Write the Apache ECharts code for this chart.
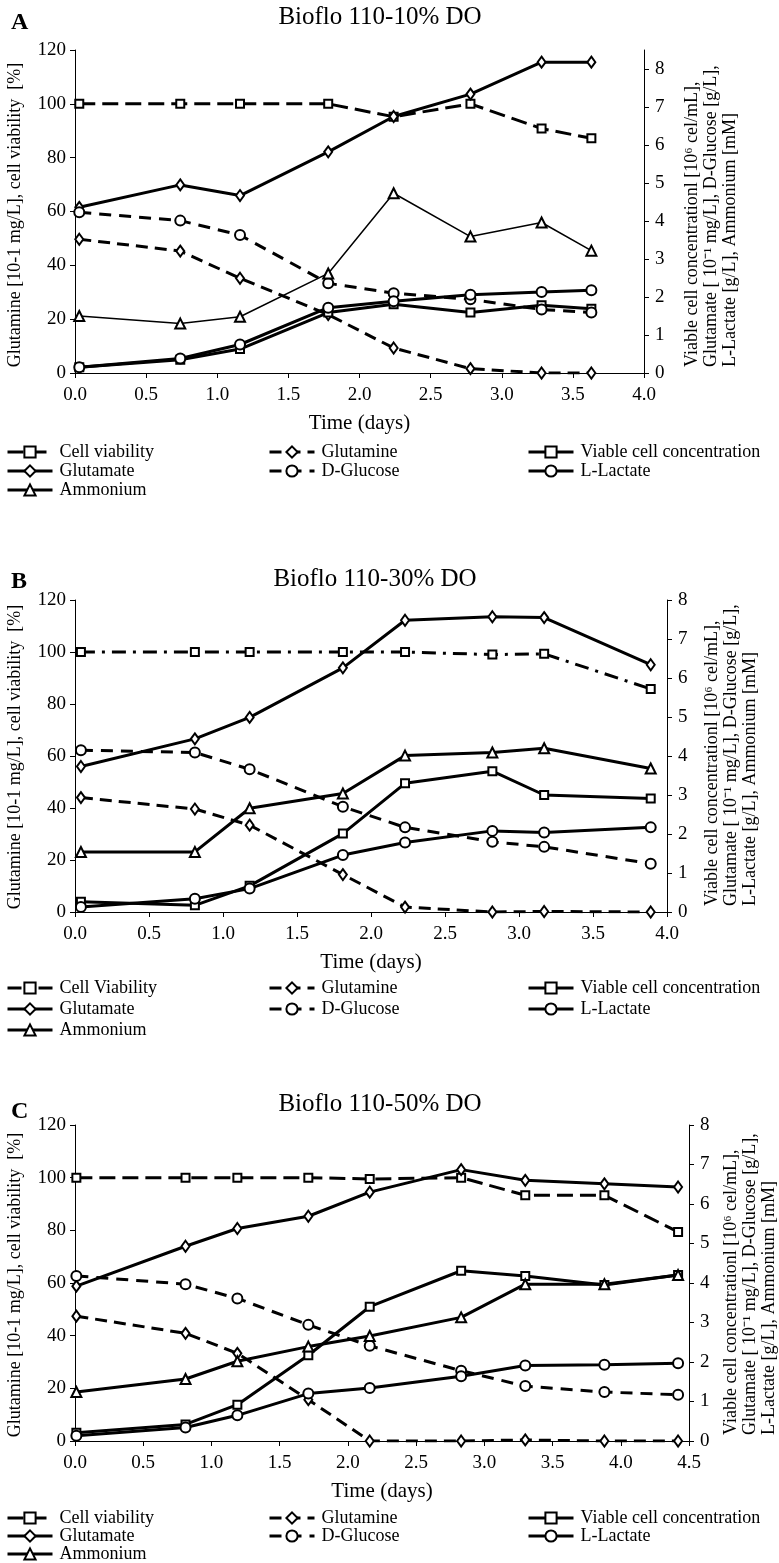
<!DOCTYPE html>
<html><head><meta charset="utf-8">
<script src="https://cdn.jsdelivr.net/npm/echarts@6/dist/echarts.min.js"></script>
<style>html,body{margin:0;padding:0;background:#fff}#c{width:779px;height:1563px}</style>
</head><body><div id="c"></div>
<script>
// ---------- DATA ----------
const xTicksAB = [0, 0.5, 1, 1.5, 2, 2.5, 3, 3.5, 4];
const xTicksC = [0, 0.5, 1, 1.5, 2, 2.5, 3, 3.5, 4, 4.5];
const leftTicks = [0, 20, 40, 60, 80, 100, 120];
const rightTicks = [0, 1, 2, 3, 4, 5, 6, 7, 8];

// Panel A : Bioflo 110-10% DO
const daysA = [0.03, 0.74, 1.16, 1.78, 2.24, 2.78, 3.28, 3.63];
const viabilityA = [100, 100, 100, 100, 95.2, 100, 90.8, 87.2];
const glutamineA = [49.7, 45.3, 35.2, 21.7, 9.3, 1.6, 0, 0];
const viableA = [0.15, 0.35, 0.63, 1.59, 1.81, 1.59, 1.78, 1.69];
const glutamateA = [4.36, 4.95, 4.67, 5.82, 6.75, 7.34, 8.18, 8.18];
const glucoseA = [4.23, 4.01, 3.63, 2.36, 2.10, 1.94, 1.67, 1.59];
const lactateA = [0.15, 0.38, 0.75, 1.72, 1.89, 2.06, 2.13, 2.18];
const ammoniumA = [1.50, 1.30, 1.48, 2.62, 4.73, 3.59, 3.96, 3.22];

// Panel B : Bioflo 110-30% DO
const daysB = [0.04, 0.81, 1.18, 1.81, 2.23, 2.82, 3.17, 3.89];
const viabilityB = [100, 100, 100, 100, 100, 99.0, 99.3, 85.8];
const glutamineB = [44.0, 39.6, 33.4, 14.4, 1.9, 0, 0.2, 0];
const viableB = [0.26, 0.17, 0.67, 2.01, 3.30, 3.61, 3.00, 2.91];
const glutamateB = [3.73, 4.44, 4.99, 6.26, 7.48, 7.57, 7.55, 6.34];
const glucoseB = [4.15, 4.09, 3.66, 2.70, 2.17, 1.80, 1.67, 1.24];
const lactateB = [0.13, 0.34, 0.60, 1.46, 1.78, 2.08, 2.04, 2.17];
const ammoniumB = [1.54, 1.54, 2.66, 3.04, 4.01, 4.09, 4.20, 3.68];

// Panel C : Bioflo 110-50% DO
const daysC = [0.01, 0.81, 1.19, 1.71, 2.16, 2.83, 3.30, 3.88, 4.42];
const viabilityC = [100, 100, 100, 100, 99.5, 100, 93.3, 93.3, 79.4];
const glutamineC = [47.4, 40.9, 33.3, 15.7, 0, 0, 0.4, 0, 0];
const viableC = [0.21, 0.42, 0.92, 2.17, 3.40, 4.31, 4.18, 3.95, 4.20];
const glutamateC = [3.92, 4.93, 5.38, 5.69, 6.30, 6.87, 6.60, 6.51, 6.43];
const glucoseC = [4.18, 3.97, 3.61, 2.94, 2.41, 1.78, 1.39, 1.24, 1.17];
const lactateC = [0.13, 0.34, 0.65, 1.20, 1.34, 1.64, 1.91, 1.93, 1.97];
const ammoniumC = [1.24, 1.57, 2.02, 2.39, 2.66, 3.13, 3.97, 3.97, 4.20];

const titles = ['Bioflo 110-10% DO', 'Bioflo 110-30% DO', 'Bioflo 110-50% DO'];
const letters = ['A', 'B', 'C'];
const xName = 'Time (days)';
const leftName = 'Glutamine [10-1 mg/L], cell viability  [%]';
const rightName = 'Viable cell concentrationl [10\u2076 cel/mL],\nGlutamate [ 10\u207B\u00B9 mg/L], D-Glucose [g/L],\nL-Lactate [g/L], Ammonium [mM]';

// ---------- STYLE / LAYOUT ----------
const FONT = 'Liberation Serif';
const BLACK = '#000';
const panels = [
  { days: daysA, xMax: 4, xTicks: xTicksAB, rMax: 8.5, left: 75, top: 50, width: 569, height: 323,
    titleX: 375, titleTop: 0, letterTop: 6, legendTop: 443, legendGap: 1, leftNameY: 215, rightOff: 39,
    ammoniumWidth: 1.5, vname: 'Cell viability', vdash: [16, 7],
    vals: { v: viabilityA, gn: glutamineA, vc: viableA, gt: glutamateA, gl: glucoseA, la: lactateA, am: ammoniumA } },
  { days: daysB, xMax: 4, xTicks: xTicksAB, rMax: 8, left: 75, top: 600, width: 592, height: 312,
    titleX: 370, titleTop: 562, letterTop: 565, legendTop: 979, legendGap: 3, leftNameY: 757, rightOff: 36,
    ammoniumWidth: 3, vname: 'Cell Viability', vdash: [14, 7, 3, 7],
    vals: { v: viabilityB, gn: glutamineB, vc: viableB, gt: glutamateB, gl: glucoseB, la: lactateB, am: ammoniumB } },
  { days: daysC, xMax: 4.5, xTicks: xTicksC, rMax: 8, left: 75, top: 1125, width: 614, height: 316,
    titleX: 375, titleTop: 1087, letterTop: 1095, legendTop: 1509, legendGap: 0, leftNameY: 1285, rightOff: 33,
    ammoniumWidth: 3, vname: 'Cell viability', vdash: [16, 7],
    vals: { v: viabilityC, gn: glutamineC, vc: viableC, gt: glutamateC, gl: glucoseC, la: lactateC, am: ammoniumC } }
];

const option = {
  backgroundColor: '#fff',
  animation: false,
  title: [], grid: [], xAxis: [], yAxis: [], series: [], legend: [], graphic: []
};

function pairs(xs, ys) { return xs.map((x, i) => [x, ys[i]]); }

panels.forEach((p, i) => {
  option.title.push({ text: letters[i], left: 6, top: p.letterTop,
    textStyle: { fontFamily: FONT, fontWeight: 'bold', fontSize: 24, color: BLACK } });
  option.title.push({ text: titles[i], left: p.titleX, top: p.titleTop, textAlign: 'center',
    textStyle: { fontFamily: FONT, fontWeight: 'normal', fontSize: 25, color: BLACK } });
  option.grid.push({ left: p.left, top: p.top, width: p.width, height: p.height, containLabel: false });
  const axisCommon = {
    axisLine: { show: true, onZero: false, lineStyle: { color: BLACK, width: 1 } },
    splitLine: { show: false }
  };
  option.xAxis.push(Object.assign({}, axisCommon, {
    type: 'value', gridIndex: i, min: 0, max: p.xMax, interval: 0.5,
    axisLabel: { color: BLACK, fontFamily: FONT, fontSize: 19, margin: 13,
      customValues: p.xTicks, formatter: v => v.toFixed(1) },
    axisTick: { show: true, length: 5, lineStyle: { color: BLACK }, customValues: p.xTicks },
    name: xName, nameLocation: 'middle', nameGap: 40,
    nameTextStyle: { fontFamily: FONT, fontSize: 21, color: BLACK }
  }));
  option.yAxis.push(Object.assign({}, axisCommon, {
    type: 'value', gridIndex: i, position: 'left', min: 0, max: 120, interval: 20,
    axisLabel: { color: BLACK, fontFamily: FONT, fontSize: 19, margin: 9, customValues: leftTicks },
    axisTick: { show: true, length: 5, lineStyle: { color: BLACK }, customValues: leftTicks }
  }));
  option.yAxis.push(Object.assign({}, axisCommon, {
    type: 'value', gridIndex: i, position: 'right', min: 0, max: p.rMax, interval: 1,
    axisLabel: { color: BLACK, fontFamily: FONT, fontSize: 19, margin: 11, customValues: rightTicks },
    axisTick: { show: true, length: 5, lineStyle: { color: BLACK }, customValues: rightTicks }
  }));
  const xi = i, yl = 2 * i, yr = 2 * i + 1;
  const mk = (name, ys, yIdx, symbol, size, type, width) => ({
    type: 'line', name, xAxisIndex: xi, yAxisIndex: yIdx, data: pairs(p.days, ys),
    symbol, symbolSize: size, showAllSymbol: true,
    lineStyle: { color: BLACK, width, type },
    itemStyle: { color: BLACK, borderColor: BLACK, borderWidth: 1 },
    emphasis: { disabled: true }, z: 2
  });
  option.series.push(mk(p.vname, p.vals.v, yl, 'emptyRect', 8, p.vdash, 3));
  option.series.push(mk('Glutamine', p.vals.gn, yl, 'emptyDiamond', [8, 11], [12, 7], 3));
  option.series.push(mk('Viable cell concentration', p.vals.vc, yr, 'emptyRect', 8, 'solid', 3));
  option.series.push(mk('Glutamate', p.vals.gt, yr, 'emptyDiamond', [8, 11], 'solid', 3));
  option.series.push(mk('D-Glucose', p.vals.gl, yr, 'emptyCircle', 10, [12, 8], 3));
  option.series.push(mk('L-Lactate', p.vals.la, yr, 'emptyCircle', 10, 'solid', 3));
  option.series.push(mk('Ammonium', p.vals.am, yr, 'emptyTriangle', 10, 'solid', p.ammoniumWidth));

  const legCommon = { orient: 'vertical', top: p.legendTop, height: 80, padding: 0,
    itemWidth: 45, itemHeight: 14, itemGap: p.legendGap,
    selectedMode: false, lineStyle: { width: 3 },
    textStyle: { fontFamily: FONT, fontSize: 18, color: BLACK, padding: [0, 0, 0, 2] } };
  option.legend.push(Object.assign({}, legCommon, { left: 6, data: [p.vname, 'Glutamate', 'Ammonium'] }));
  option.legend.push(Object.assign({}, legCommon, { left: 268, data: ['Glutamine', 'D-Glucose'] }));
  option.legend.push(Object.assign({}, legCommon, { left: 527, data: ['Viable cell concentration', 'L-Lactate'] }));

  option.graphic.push({ type: 'text', x: 15, y: p.leftNameY, rotation: Math.PI / 2,
    style: { text: leftName, font: '18px "Liberation Serif"', fill: BLACK, align: 'center', verticalAlign: 'middle' } });
  option.graphic.push({ type: 'text', x: p.left + p.width + p.rightOff, y: p.top + p.height - 6, rotation: Math.PI / 2,
    style: { text: rightName, font: '18px "Liberation Serif"', fill: BLACK, align: 'left', verticalAlign: 'top', lineHeight: 19 } });
});

const chart = echarts.init(document.getElementById('c'), null, { renderer: 'canvas', width: 779, height: 1563 });
chart.setOption(option);
</script></body></html>
